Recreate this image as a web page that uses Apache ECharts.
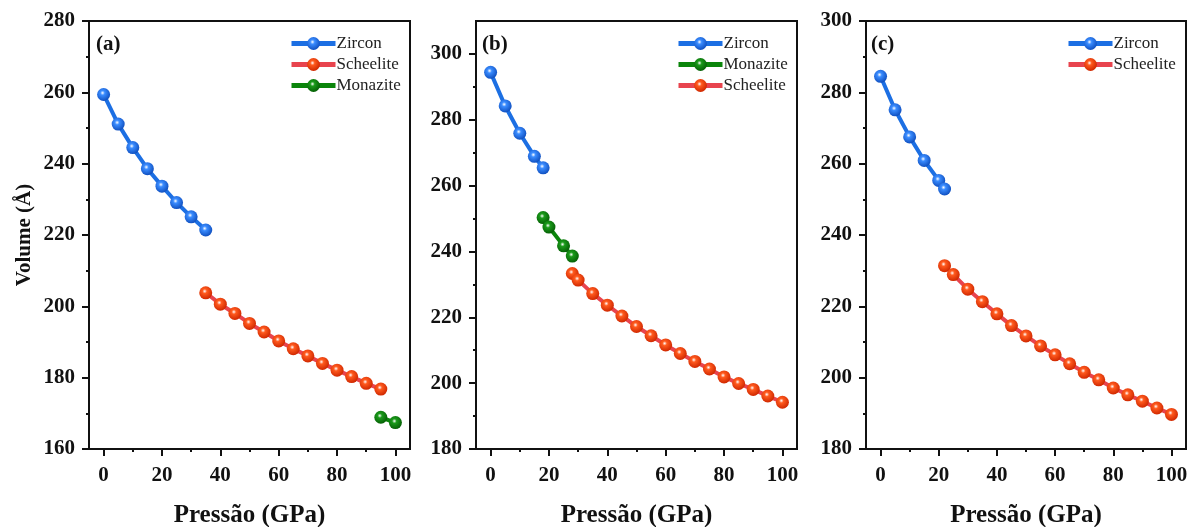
<!DOCTYPE html>
<html><head><meta charset="utf-8">
<script src="https://cdn.jsdelivr.net/npm/echarts@6/dist/echarts.min.js"></script>
<style>html,body{margin:0;padding:0;background:#fff}#c{width:1187px;height:527px}</style>
</head><body><div id="c"></div>
<script>
// ---- tick labels ----
const xTicks = [0, 20, 40, 60, 80, 100];
const xMinor = [10, 30, 50, 70, 90];
const yTicksA = [160, 180, 200, 220, 240, 260, 280];
const yMinorA = [170, 190, 210, 230, 250, 270];
const yTicksB = [180, 200, 220, 240, 260, 280, 300];
const yMinorB = [190, 210, 230, 250, 270, 290];
const yTicksC = [180, 200, 220, 240, 260, 280, 300];
const yMinorC = [190, 210, 230, 250, 270, 290];

// ---- panel (a) ----
const aZirconP = [0, 5, 10, 15, 20, 25, 30, 35];
const aZirconV = [259.4, 251.1, 244.5, 238.6, 233.7, 229.1, 225.1, 221.4];
const aScheeliteP = [35, 40, 45, 50, 55, 60, 65, 70, 75, 80, 85, 90, 95];
const aScheeliteV = [203.8, 200.6, 198.0, 195.2, 192.8, 190.3, 188.1, 186.1, 184.0, 182.1, 180.3, 178.4, 176.8];
const aMonaziteP = [95, 100];
const aMonaziteV = [168.9, 167.4];

// ---- panel (b) ----
const bZirconP = [0, 5, 10, 15, 18];
const bZirconV = [294.4, 284.2, 275.9, 268.9, 265.4];
const bMonaziteP = [18, 20, 25, 28];
const bMonaziteV = [250.3, 247.4, 241.7, 238.6];
const bScheeliteP = [28, 30, 35, 40, 45, 50, 55, 60, 65, 70, 75, 80, 85, 90, 95, 100];
const bScheeliteV = [233.3, 231.3, 227.2, 223.7, 220.4, 217.2, 214.4, 211.6, 209.0, 206.6, 204.3, 201.9, 199.9, 198.1, 196.1, 194.2];

// ---- panel (c) ----
const cZirconP = [0, 5, 10, 15, 20, 22];
const cZirconV = [284.5, 275.1, 267.5, 260.9, 255.3, 252.9];
const cScheeliteP = [22, 25, 30, 35, 40, 45, 50, 55, 60, 65, 70, 75, 80, 85, 90, 95, 100];
const cScheeliteV = [231.4, 228.9, 224.8, 221.3, 217.9, 214.6, 211.7, 208.9, 206.4, 203.9, 201.5, 199.4, 197.1, 195.2, 193.4, 191.5, 189.7];

const FONT = "'Liberation Serif','Times New Roman',serif";
const zip = (a, b) => a.map((v, i) => [v, b[i]]);

function sphere(base, dark) {
  return { type: 'radial', x: 0.42, y: 0.38, r: 0.62,
    colorStops: [{ offset: 0, color: '#ffffff' }, { offset: 0.28, color: base }, { offset: 1, color: dark }] };
}
const STYLE = {
  Zircon: { line: '#1c6fe3', base: '#3a8cff', dark: '#1050c0' },
  Scheelite: { line: '#e8444e', base: '#ff5a1e', dark: '#d02800' },
  Monazite: { line: '#0b850b', base: '#1a9a1a', dark: '#056005' }
};

const grids = [
  { left: 89, top: 21, width: 321, height: 428 },
  { left: 476, top: 21, width: 321, height: 428 },
  { left: 866, top: 21, width: 320, height: 428 }
];
const yRanges = [[160, 280, yTicksA, yMinorA], [180, 310, yTicksB, yMinorB], [180, 300, yTicksC, yMinorC]];

const xAxis = [], yAxis = [], series = [], legend = [], graphic = [];
grids.forEach((g, i) => {
  xAxis.push({
    type: 'value', gridIndex: i, min: -5, max: 105, position: 'bottom',
    name: 'Pressão (GPa)', nameLocation: 'middle', nameGap: 54,
    nameTextStyle: { fontFamily: FONT, fontWeight: 'bold', fontSize: 25, color: '#111' },
    axisLine: { show: true, onZero: false, lineStyle: { color: '#111', width: 2 } },
    axisTick: { show: true, inside: false, length: 7, customValues: xTicks, lineStyle: { width: 2, color: '#111' } },
    axisLabel: { customValues: xTicks, margin: 16, fontFamily: FONT, fontWeight: 'bold', fontSize: 21, color: '#111' },
    splitLine: { show: false }
  });
  xAxis.push({
    type: 'value', gridIndex: i, min: -5, max: 105, position: 'bottom',
    axisLine: { show: false, onZero: false },
    axisTick: { show: true, inside: false, length: 3, customValues: xMinor, lineStyle: { width: 2, color: '#111' } },
    axisLabel: { show: false }, splitLine: { show: false }
  });
  const [mn, mx, tk, mi] = yRanges[i];
  yAxis.push({
    type: 'value', gridIndex: i, min: mn, max: mx, position: 'left',
    name: i === 0 ? 'Volume (Å)' : '', nameLocation: 'middle', nameGap: 54,
    nameTextStyle: { fontFamily: FONT, fontWeight: 'bold', fontSize: 21, color: '#111' },
    axisLine: { show: true, onZero: false, lineStyle: { color: '#111', width: 2 } },
    axisTick: { show: true, inside: false, length: 7, customValues: tk, lineStyle: { width: 2, color: '#111' } },
    axisLabel: { customValues: tk, margin: 14, fontFamily: FONT, fontWeight: 'bold', fontSize: 21, color: '#111' },
    splitLine: { show: false }
  });
  yAxis.push({
    type: 'value', gridIndex: i, min: mn, max: mx, position: 'left',
    axisLine: { show: false, onZero: false },
    axisTick: { show: true, inside: false, length: 3, customValues: mi, lineStyle: { width: 2, color: '#111' } },
    axisLabel: { show: false }, splitLine: { show: false }
  });
});

function addSeries(name, p, v, gi) {
  const s = STYLE[name];
  series.push({
    name: name, type: 'line', xAxisIndex: gi * 2, yAxisIndex: gi * 2,
    data: zip(p, v), symbol: 'circle', symbolSize: 13, showSymbol: true,
    lineStyle: { color: s.line, width: 4 },
    itemStyle: { color: sphere(s.base, s.dark), borderWidth: 0 },
    emphasis: { disabled: true }, animation: false, z: 3
  });
}
addSeries('Zircon', aZirconP, aZirconV, 0);
addSeries('Scheelite', aScheeliteP, aScheeliteV, 0);
addSeries('Monazite', aMonaziteP, aMonaziteV, 0);
addSeries('Zircon', bZirconP, bZirconV, 1);
addSeries('Monazite', bMonaziteP, bMonaziteV, 1);
addSeries('Scheelite', bScheeliteP, bScheeliteV, 1);
addSeries('Zircon', cZirconP, cZirconV, 2);
addSeries('Scheelite', cScheeliteP, cScheeliteV, 2);

const legendData = [['Zircon', 'Scheelite', 'Monazite'], ['Zircon', 'Monazite', 'Scheelite'], ['Zircon', 'Scheelite']];
const legendLeft = [289, 676, 1066];
legendData.forEach((d, i) => {
  legend.push({
    data: d, orient: 'vertical', left: legendLeft[i], top: 35, itemWidth: 44, itemHeight: 16,
    itemGap: 4, selectedMode: false, padding: 0,
    lineStyle: { width: 5 },
    textStyle: { fontFamily: FONT, fontSize: 17, color: '#222', padding: [0, 0, 0, -4] }
  });
});

const panelLabels = ['(a)', '(b)', '(c)'];
const labelLeft = [96, 482, 871];
panelLabels.forEach((t, i) => {
  graphic.push({ type: 'text', left: labelLeft[i], top: 34,
    style: { text: t, fontFamily: FONT, fontWeight: 'bold', fontSize: 21, fill: '#111' } });
});

const chart = echarts.init(document.getElementById('c'), null, { renderer: 'canvas' });
chart.setOption({
  animation: false,
  backgroundColor: '#fff',
  grid: grids.map(g => Object.assign({ show: true, borderColor: '#111', borderWidth: 2, backgroundColor: 'transparent', containLabel: false, outerBoundsMode: 'none' }, g)),
  xAxis: xAxis, yAxis: yAxis, series: series, legend: legend, graphic: graphic
});
</script></body></html>
